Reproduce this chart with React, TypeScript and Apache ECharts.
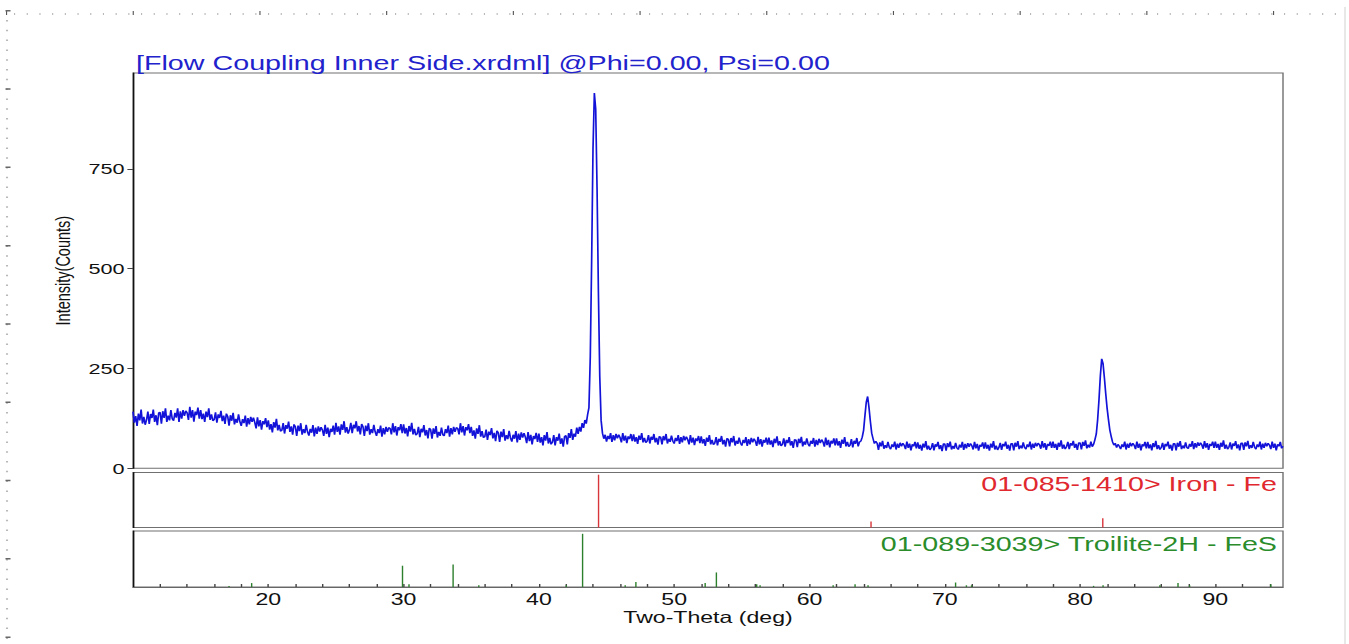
import React, { useEffect, useRef } from "react";
import * as echarts from "echarts";

// ---------- DATA ----------
const chartTitle = "[Flow Coupling Inner Side.xrdml] @Phi=0.00, Psi=0.00";
const xAxisTitle = "Two-Theta (deg)";
const yAxisTitle = "Intensity(Counts)";
const feLabel = "01-085-1410> Iron - Fe";
const fesLabel = "01-089-3039> Troilite-2H - FeS";

const twoThetaStart = 10;
const twoThetaStep = 0.1;
const xMin = 10;
const xMax = 95;
const yMax = 990;
const yTicks = [0, 250, 500, 750];
const xTickLabels = [20, 30, 40, 50, 60, 70, 80, 90];

// measured intensity (counts), 10.0 .. 95.0 deg, step 0.1
const intensity = [
  142,114,131,106,137,120,147,112,129,109,
  121,142,111,136,126,147,116,133,108,139,
  140,112,143,126,150,116,132,120,146,124,
  119,139,127,150,116,143,124,146,131,144,
  139,121,154,127,146,117,142,133,152,124,
  146,123,137,116,142,128,150,121,135,119,
  122,140,114,135,126,144,118,132,111,137,
  130,107,133,119,139,110,124,114,135,117,
  106,123,113,132,104,126,110,129,116,127,
  115,100,128,105,121,97,118,110,126,103,
  120,97,111,90,116,102,124,95,109,93,
  95,113,87,108,99,117,91,105,84,110,
  104,81,107,93,113,84,98,88,109,91,
  82,99,89,108,80,102,86,105,92,103,
  96,81,109,86,102,78,99,91,107,84,
  114,91,105,84,110,96,118,89,103,87,
  96,114,88,109,100,118,92,106,85,111,
  104,81,107,93,113,84,98,88,109,91,
  81,98,88,107,79,101,85,104,91,102,
  100,85,113,90,106,82,103,95,111,88,
  110,87,101,80,106,92,114,85,99,83,
  86,104,78,99,90,108,82,96,75,101,
  97,74,100,86,106,77,91,81,102,84,
  81,98,88,107,79,101,85,104,91,102,
  100,85,113,90,106,82,103,95,111,88,
  104,81,95,74,100,86,108,79,93,77,
  79,97,71,92,83,101,75,89,68,94,
  89,66,92,78,98,69,83,73,94,76,
  67,84,74,93,65,87,71,90,77,88,
  78,63,91,68,84,60,81,73,89,66,
  87,64,78,57,83,69,91,62,76,60,
  65,83,57,78,69,87,61,75,54,80,
  82,60,88,76,98,71,87,79,102,86,
  104,92,113,101,121,112,134,152,280,520,
  800,940,900,700,440,230,120,88,74,84,
  67,81,73,88,66,83,70,86,75,84,
  77,65,88,69,82,63,80,73,86,68,
  85,67,78,61,82,71,88,65,76,64,
  68,83,62,79,71,86,65,76,59,80,
  78,60,81,70,86,62,74,66,82,68,
  62,76,68,83,61,78,65,81,70,79,
  72,60,83,64,77,58,75,68,81,63,
  80,62,73,56,77,66,83,60,71,59,
  63,78,57,74,66,81,60,71,54,75,
  73,55,76,65,81,57,69,61,77,63,
  57,71,63,78,56,73,60,76,65,74,
  68,56,79,60,73,54,71,64,77,59,
  77,59,70,53,74,63,80,57,68,56,
  60,75,54,71,63,78,57,68,51,72,
  71,53,74,63,79,55,67,59,75,61,
  55,69,61,76,54,71,58,74,63,72,
  66,54,77,58,71,52,69,62,75,57,
  75,57,68,51,72,61,78,55,66,54,
  58,73,52,69,61,76,55,66,68,78,
  95,132,166,180,152,118,88,74,62,68,
  63,46,65,55,69,49,58,51,66,53,
  48,60,53,67,47,62,51,64,55,63,
  58,48,67,51,62,45,60,55,66,50,
  65,49,59,44,62,52,68,47,57,46,
  51,63,45,60,54,66,48,58,43,61,
  61,44,63,53,67,47,56,49,64,51,
  47,59,52,66,46,61,50,63,54,62,
  57,47,66,50,61,44,59,54,65,49,
  65,49,59,44,62,52,68,47,57,46,
  52,64,46,61,55,67,49,59,44,62,
  62,45,64,54,68,48,57,50,65,52,
  48,60,53,67,47,62,51,64,55,63,
  59,49,68,52,63,46,61,56,67,51,
  67,51,61,46,64,54,70,49,59,48,
  54,66,48,63,57,69,51,61,46,64,
  64,47,66,56,70,50,59,52,67,54,
  60,72,86,122,172,232,274,262,226,186,
  150,122,96,80,66,58,63,52,60,55,
  48,60,53,67,47,62,51,64,55,63,
  58,48,67,51,62,45,60,55,66,50,
  66,50,60,45,63,53,69,48,58,47,
  52,64,46,61,55,67,49,59,44,62,
  62,45,64,54,68,48,57,50,65,52,
  49,61,54,68,48,63,52,65,56,64,
  59,49,68,52,63,46,61,56,67,51,
  67,51,61,46,64,54,70,49,59,48,
  53,65,47,62,56,68,50,60,45,63,
  63,46,65,55,69,49,58,51,66,53,
  48,60,53,67,47,62,51,64,55,63,
  58,48,67,51,62,45,60,55,66,50,
  55,
];

// reference pattern sticks: [2theta, relative intensity %]
const feSticks = [
  [44.41, 96],
  [64.55, 11],
  [81.68, 17],
];
const fesSticks = [
  [17.1, 2], [18.77, 7], [29.92, 38], [30.4, 5], [33.66, 40], [35.56, 3],
  [42.03, 3], [43.23, 95], [46.38, 3], [47.17, 9], [52.29, 7], [53.12, 26],
  [56.1, 5], [56.35, 3], [61.75, 3], [63.37, 5], [64.33, 3], [70.8, 8],
  [71.6, 3], [71.98, 3], [81.0, 2], [81.7, 3], [85.9, 3], [87.24, 7],
  [88.1, 3], [94.1, 5],
];

// ---------- LAYOUT ----------
const W = 1349;
const H = 644;
const S = 1.4; // horizontal stretch of the original picture
const IW = W / S;
const u = (px: number) => px / S;
const FONT = "'Liberation Sans', Arial, sans-serif";

const plotLeft = u(133);
const plotWidth = u(1283) - u(133);

function stickRender(color: string) {
  return (params: any, api: any) => {
    const x = api.value(0);
    const h = api.value(1);
    const p0 = api.coord([x, 0]);
    const p1 = api.coord([x, h]);
    return {
      type: "line",
      shape: { x1: p0[0], y1: p0[1], x2: p1[0], y2: p1[1] },
      style: { stroke: color, lineWidth: 1 },
    };
  };
}

export default function App() {
  const ref = useRef<HTMLDivElement>(null);

  useEffect(() => {
    if (!ref.current) return;
    const chart = echarts.init(ref.current, null, { renderer: "svg" });

    const lineData = intensity.map((v, i) => [
      +(twoThetaStart + i * twoThetaStep).toFixed(2),
      v,
    ]);

    const hiddenX = (gridIndex: number) => ({
      type: "value",
      gridIndex,
      min: xMin,
      max: xMax,
      axisLine: { show: false },
      axisTick: { show: false },
      axisLabel: { show: false },
      splitLine: { show: false },
    });

    const panelY = (gridIndex: number) => ({
      type: "value",
      gridIndex,
      min: 0,
      max: 100,
      axisLine: { show: true, lineStyle: { color: "#111", width: 1 } },
      axisTick: { show: false },
      axisLabel: { show: false },
      splitLine: { show: false },
    });

    const dots = "#b8b8b8";

    chart.setOption({
      animation: false,
      backgroundColor: "#ffffff",
      title: {
        text: chartTitle,
        left: u(136),
        top: 52,
        padding: 0,
        textStyle: {
          color: "#2222cc",
          fontSize: 20.5,
          fontWeight: "normal",
          fontFamily: FONT,
        },
      },
      grid: [
        {
          left: plotLeft, width: plotWidth, top: 73, height: 395.3,
          show: true, borderColor: "#707070", borderWidth: 1, backgroundColor: "transparent",
        },
        {
          left: plotLeft, width: plotWidth, top: 472.5, height: 55,
          show: true, borderColor: "#707070", borderWidth: 1, backgroundColor: "transparent",
        },
        {
          left: plotLeft, width: plotWidth, top: 531, height: 56,
          show: true, borderColor: "#707070", borderWidth: 1, backgroundColor: "transparent",
        },
      ],
      xAxis: [
        hiddenX(0),
        hiddenX(1),
        {
          type: "value",
          gridIndex: 2,
          min: xMin,
          max: xMax,
          interval: 2,
          name: xAxisTitle,
          nameLocation: "middle",
          nameGap: 21,
          nameTextStyle: { color: "#111", fontSize: 16.5, fontFamily: FONT },
          axisLine: { show: true, lineStyle: { color: "#666", width: 1 } },
          axisTick: { show: true, inside: true, length: 3, lineStyle: { color: "#444" } },
          axisLabel: {
            show: true,
            color: "#111",
            fontSize: 16.5,
            fontFamily: FONT,
            margin: 4,
            showMinLabel: false,
            showMaxLabel: false,
            formatter: (v: number) => (xTickLabels.includes(Math.round(v)) && Math.abs(v - Math.round(v)) < 1e-6 ? String(Math.round(v)) : ""),
          },
          splitLine: { show: false },
        },
      ],
      yAxis: [
        {
          type: "value",
          gridIndex: 0,
          min: 0,
          max: yMax,
          interval: 250,
          name: yAxisTitle,
          nameLocation: "middle",
          nameGap: 36,
          nameRotate: 90,
          nameTextStyle: { color: "#111", fontSize: 14.5, fontFamily: FONT },
          axisLine: { show: true, lineStyle: { color: "#111", width: 1 } },
          axisTick: { show: true, length: 4, lineStyle: { color: "#444" } },
          axisLabel: {
            color: "#111",
            fontSize: 15.5,
            fontFamily: FONT,
            margin: 6,
            showMaxLabel: false,
            formatter: (v: number) => (yTicks.includes(v) ? String(v) : ""),
          },
          splitLine: { show: false },
        },
        panelY(1),
        panelY(2),
      ],
      series: [
        {
          type: "line",
          xAxisIndex: 0,
          yAxisIndex: 0,
          data: lineData,
          showSymbol: false,
          symbol: "none",
          lineStyle: { color: "#1212d8", width: 1.2 },
          silent: true,
        },
        {
          type: "custom",
          xAxisIndex: 1,
          yAxisIndex: 1,
          data: feSticks,
          renderItem: stickRender("#d8343a"),
          silent: true,
        },
        {
          type: "custom",
          xAxisIndex: 2,
          yAxisIndex: 2,
          data: fesSticks,
          renderItem: stickRender("#2c7f2c"),
          silent: true,
        },
      ],
      graphic: [
        {
          type: "text",
          x: u(1277),
          y: 484,
          style: {
            text: feLabel,
            fill: "#e0282e",
            font: `20.5px ${FONT}`,
            align: "right",
            verticalAlign: "middle",
          },
          silent: true,
        },
        {
          type: "text",
          x: u(1277),
          y: 544,
          style: {
            text: fesLabel,
            fill: "#2a8c2a",
            font: `20.5px ${FONT}`,
            align: "right",
            verticalAlign: "middle",
          },
          silent: true,
        },
        {
          type: "line",
          shape: { x1: u(14), y1: 14, x2: u(1340), y2: 14 },
          style: { stroke: dots, lineWidth: 2, lineDash: [0.8, u(12.7) - 0.8] },
          silent: true,
        },
        {
          type: "line",
          shape: { x1: u(6), y1: 13, x2: u(1340), y2: 13 },
          style: { stroke: "#555", lineWidth: 4, lineDash: [0.8, u(126.7) - 0.8] },
          silent: true,
        },
        {
          type: "line",
          shape: { x1: u(7), y1: 20, x2: u(7), y2: 644 },
          style: { stroke: dots, lineWidth: 1.5, lineDash: [1.5, 8.3] },
          silent: true,
        },
        {
          type: "line",
          shape: { x1: u(8), y1: 10, x2: u(8), y2: 644 },
          style: { stroke: "#666", lineWidth: u(5), lineDash: [1.5, 76.8] },
          silent: true,
        },
        {
          type: "line",
          shape: { x1: u(1345), y1: 7, x2: u(1345), y2: 644 },
          style: { stroke: "#e4e4e4", lineWidth: 1.2 },
          silent: true,
        },
      ],
    });

    return () => chart.dispose();
  }, []);

  return (
    <div
      style={{
        position: "fixed",
        left: 0,
        top: 0,
        width: W,
        height: H,
        overflow: "hidden",
        background: "#fff",
      }}
    >
      <div
        ref={ref}
        style={{
          width: IW,
          height: H,
          transform: `scaleX(${S})`,
          transformOrigin: "0 0",
        }}
      />
    </div>
  );
}
